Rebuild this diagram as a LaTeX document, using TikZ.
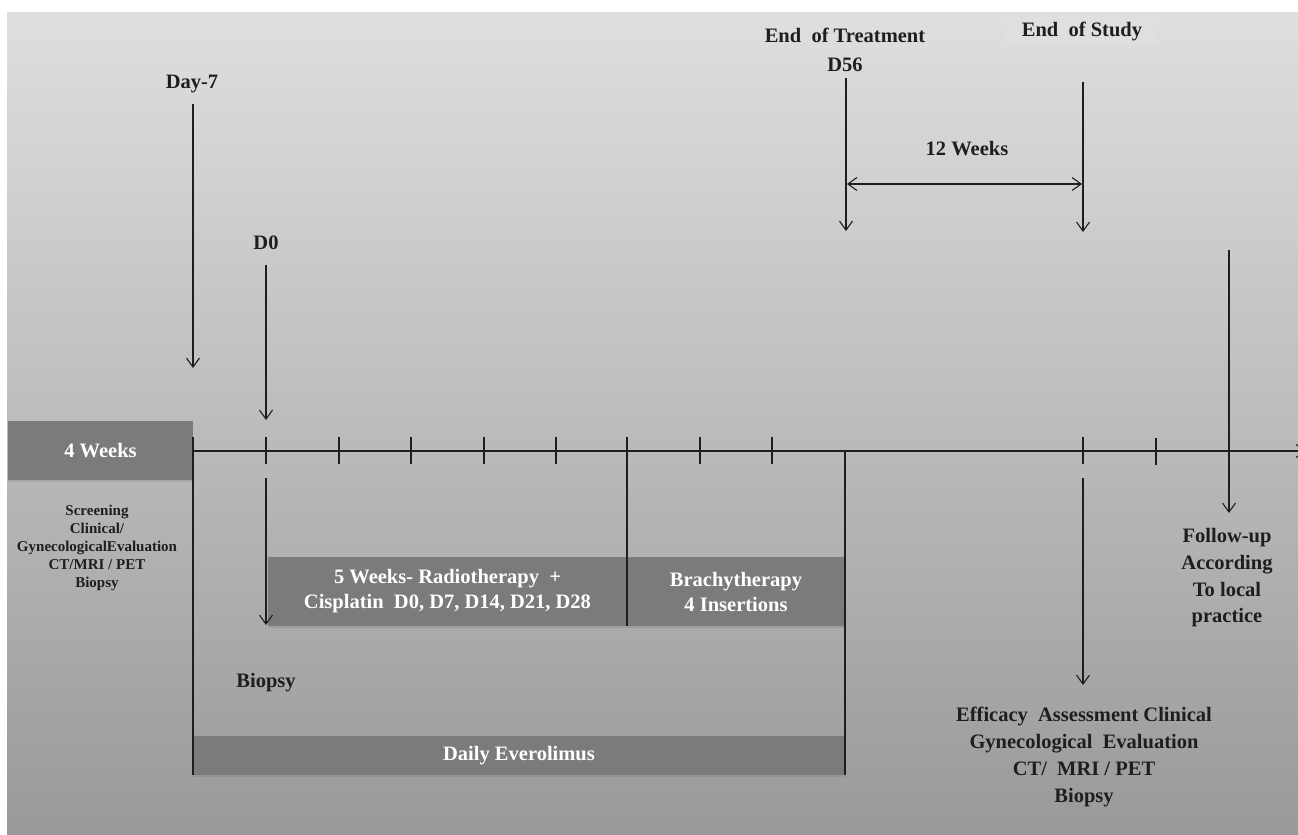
\documentclass[tikz,border=0pt]{standalone}
\usepackage{fontspec}
\setmainfont{Liberation Serif}[BoldFont={Liberation Serif Bold}]
\usetikzlibrary{arrows.meta,shadows}
\definecolor{bgtop}{HTML}{DFDFDF}
\definecolor{bgbot}{HTML}{999999}
\definecolor{boxgray}{HTML}{7B7B7B}
\definecolor{linecol}{HTML}{1E1E1E}
\begin{document}
\begin{tikzpicture}[x=1pt,y=-1pt,
  ln/.style={line width=1.1pt, draw=linecol},
  ar/.style={ln,-{Straight Barb[length=9pt,width=13pt]}},
  dar/.style={ln,{Straight Barb[length=9pt,width=13pt]}-{Straight Barb[length=9pt,width=13pt]}},
  lbl/.style={font=\bfseries\fontsize{20.5}{26.7}\selectfont, align=center, inner sep=0pt, text=linecol},
  smalllbl/.style={font=\bfseries\fontsize{15}{17.8}\selectfont, align=center, inner sep=0pt, text=linecol},
  gbox/.style={fill=boxgray, draw=none, text=white, inner sep=0pt, outer sep=0pt,
    anchor=north west, align=center, font=\bfseries\fontsize{20.5}{25}\selectfont,
    drop shadow={shadow xshift=0pt,shadow yshift=-2pt,opacity=0.3}},
  tickmark/.style={line width=1.1pt, draw=linecol}
]
\useasboundingbox (0,0) rectangle (1298,835);
\fill[white] (0,0) rectangle (1298,835);
\shade[top color=bgtop, bottom color=bgbot] (7,12) rectangle (1298,835);

% boxes
\node[gbox, minimum width=185pt, minimum height=59pt] (fourw) at (8,421) {4 Weeks};
\node[gbox, minimum width=359pt, minimum height=69pt] (radio) at (268,557) {5 Weeks- Radiotherapy\ \ +\\Cisplatin\ \ D0, D7, D14, D21, D28};
\node[gbox, minimum width=218pt, minimum height=69pt] (brachy) at (627,557) {Brachytherapy\\4 Insertions};
\node[gbox, minimum width=652pt, minimum height=39pt] (ever) at (193,736) {Daily Everolimus};

% faint highlight behind End of Study
\fill[white, opacity=0.06] (1005,17) rectangle (1157,45);

% axis
\coordinate (ax0) at (193,451);
\coordinate (ax1) at (1306,451);
\draw[ar] (ax0) -- (ax1);

% ticks
\foreach \x in {266,339,411,484,556,627,700,772,1083}
  \draw[tickmark] (\x,437) -- (\x,464);
\draw[tickmark, line width=2.4pt] (1156,438) -- (1156,465);

% vertical bracket lines
\coordinate (v1a) at (193,437); \coordinate (v1b) at (193,775);
\coordinate (v2a) at (627,437); \coordinate (v2b) at (627,626);
\coordinate (v3a) at (845,451); \coordinate (v3b) at (845,775);
\draw[ln] (v1a) -- (v1b);
\draw[ln] (v2a) -- (v2b);
\draw[ln] (v3a) -- (v3b);

% Day-7
\node[lbl] (d7) at (192,84) {Day-7};
\coordinate (d7a) at (193,104); \coordinate (d7b) at (193,368);
\draw[ar] (d7a) -- (d7b);

% D0
\node[lbl] (d0) at (266,243) {D0};
\coordinate (d0a) at (266,265); \coordinate (d0b) at (266,420);
\draw[ar] (d0a) -- (d0b);
\coordinate (bpa) at (266,478); \coordinate (bpb) at (266,625);
\draw[ar] (bpa) -- (bpb);
\node[lbl] (biop) at (266,683) {Biopsy};

% screening text
\node[smalllbl] (screen) at (97,548) {Screening\\Clinical/\\GynecologicalEvaluation\\CT/MRI / PET\\Biopsy};

% End of treatment
\node[lbl, font=\bfseries\fontsize{20.5}{29}\selectfont] (eot) at (845,50) {End\ \ of Treatment\\D56};
\coordinate (eota) at (846,78); \coordinate (eotb) at (846,231);
\draw[ar] (eota) -- (eotb);

% End of study
\node[lbl] (eos) at (1082,31) {End\ \ of Study};
\coordinate (eosa) at (1083,82); \coordinate (eosb) at (1083,232);
\draw[ar] (eosa) -- (eosb);

% 12 weeks
\node[lbl] (twelve) at (967,149) {12 Weeks};
\coordinate (twa) at (847,184); \coordinate (twb) at (1082,184);
\draw[dar] (twa) -- (twb);

% Follow-up
\coordinate (fua) at (1229,250); \coordinate (fub) at (1229,513);
\draw[ar] (fua) -- (fub);
\node[lbl] (follow) at (1227,578) {Follow-up\\According\\To local\\practice};

% Efficacy
\coordinate (efa) at (1083,478); \coordinate (efb) at (1083,685);
\draw[ar] (efa) -- (efb);
\node[lbl] (eff) at (1084,757) {Efficacy\ \ Assessment Clinical\\Gynecological\ \ Evaluation\\CT/\ \ MRI / PET\\Biopsy};
\end{tikzpicture}
\end{document}
